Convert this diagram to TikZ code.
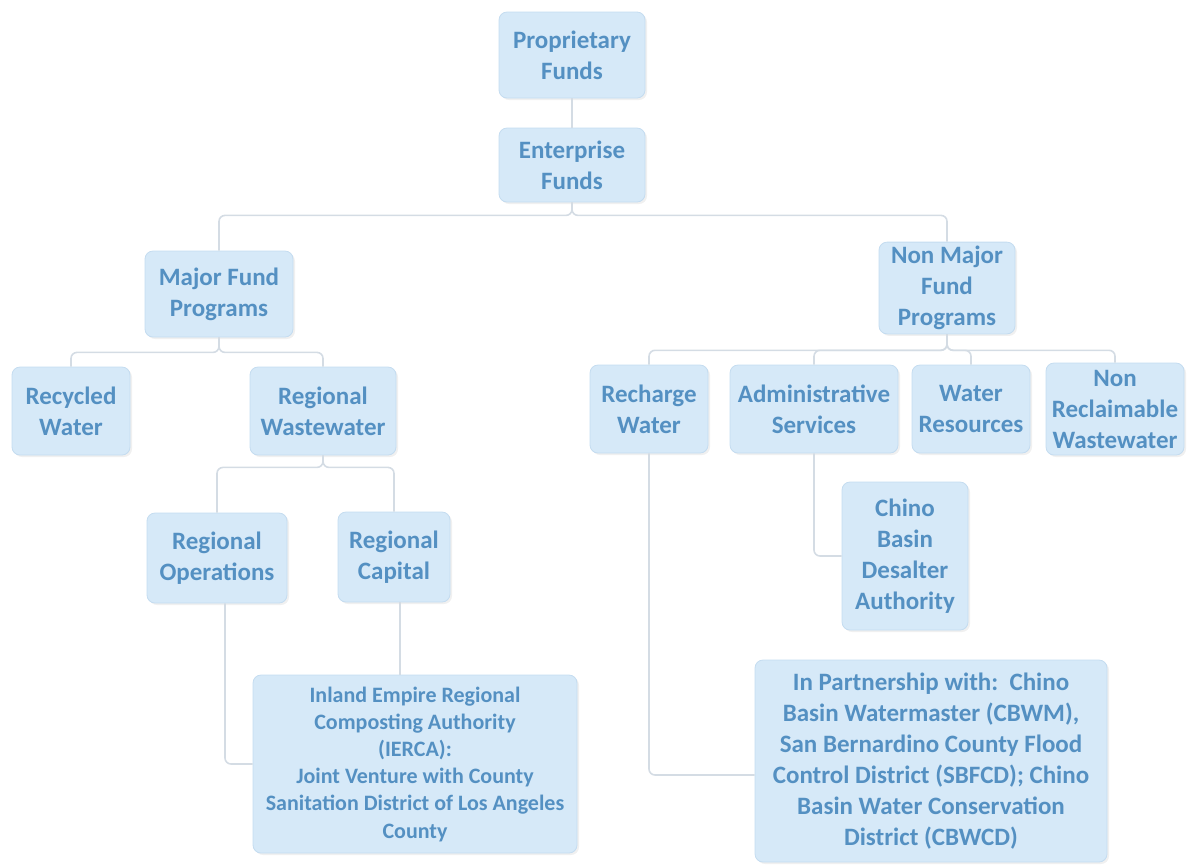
\documentclass[tikz,border=0pt]{standalone}
\usepackage{fontspec}
\setmainfont{Carlito}
\usepackage{tikz}
\usetikzlibrary{shadows}

\definecolor{boxfill}{RGB}{214,233,248}
\definecolor{boxline}{RGB}{196,220,240}
\definecolor{boxtext}{RGB}{84,144,194}
\definecolor{wire}{RGB}{212,220,228}

\begin{document}
\begin{tikzpicture}[
                x=0.5pt, y=-0.5pt,             % 1 unit = 1 px of the reference
                every node/.style={
                    rectangle,
                    rounded corners=4pt,
                    draw=boxline,
                    fill=boxfill,
                    text=boxtext,
                    align=center,
                    inner sep=2pt,
                    font=\bfseries\fontsize{12.5}{15.5}\selectfont,
                    drop shadow={opacity=0.12, shadow xshift=1pt, shadow yshift=-1pt}
                },
                small/.style={font=\bfseries\fontsize{11}{13.6}\selectfont},
                wire/.style={draw=wire, line width=0.8pt, rounded corners=3pt}
            ]
                \useasboundingbox (0,0) rectangle (1188,864);

                % nodes
                \node[minimum width=73pt, minimum height=43pt] (prop) at (572,55) {Proprietary\\Funds};
                \node[minimum width=73pt, minimum height=37pt] (ent) at (572,165) {Enterprise\\Funds};
                \node[minimum width=74pt, minimum height=43pt] (major) at (219,294) {Major Fund\\Programs};
                \node[minimum width=68pt, minimum height=45pt] (nonmajor) at (947,288) {Non Major\\Fund\\Programs};

                \node[minimum width=59pt, minimum height=44pt] (recycled) at (71,411) {Recycled\\Water};
                \node[minimum width=73pt, minimum height=44pt] (regww) at (323,411) {Regional\\Wastewater};
                \node[minimum width=70pt, minimum height=45pt] (regops) at (217,558) {Regional\\Operations};
                \node[minimum width=56pt, minimum height=45pt] (regcap) at (394,557) {Regional\\Capital};

                \node[minimum width=59pt, minimum height=44pt] (recharge) at (649,409) {Recharge\\Water};
                \node[minimum width=84pt, minimum height=44pt] (admin) at (814,409) {Administrative\\Services};
                \node[minimum width=59pt, minimum height=44pt] (waterres) at (971,409) {Water\\Resources};
                \node[minimum width=69pt, minimum height=46pt] (nonrecl) at (1115,409) {Non\\Reclaimable\\Wastewater};
                \node[minimum width=63pt, minimum height=74pt] (chino) at (905,556) {Chino\\Basin\\Desalter\\Authority};

                \node[small, minimum width=162pt, minimum height=89pt] (ierca) at (415,764)
                    {Inland Empire Regional\\Composting Authority\\(IERCA):\\Joint Venture with County\\Sanitation District of Los Angeles\\County};
                \node[minimum width=176pt, minimum height=101pt] (partner) at (931,761)
                    {In Partnership with:\ \ Chino\\Basin Watermaster (CBWM),\\San Bernardino County Flood\\Control District (SBFCD); Chino\\Basin Water Conservation\\District (CBWCD)};

                % connectors
                \draw[wire] (prop) -- (ent);
                \draw[wire] (ent.south) -- ++(0,13) -| (major.north);
                \draw[wire] (ent.south) -- ++(0,13) -| (nonmajor.north);
                \draw[wire] (major.south) -- ++(0,15) -| (recycled.north);
                \draw[wire] (major.south) -- ++(0,15) -| (regww.north);
                \draw[wire] (regww.south) -- ++(0,12) -| (regops.north);
                \draw[wire] (regww.south) -- ++(0,12) -| (regcap.north);
                \draw[wire] (nonmajor.south) -- ++(0,16) -| (recharge.north);
                \draw[wire] (nonmajor.south) -- ++(0,16) -| (admin.north);
                \draw[wire] (nonmajor.south) -- ++(0,16) -| (waterres.north);
                \draw[wire] (nonmajor.south) -- ++(0,16) -| (nonrecl.north);
                \draw[wire] (admin.south) |- (chino.west);
                \draw[wire] (recharge.south) |- ([yshift=-7pt]partner.west);
                \draw[wire] ([xshift=4pt]regops.south) |- (ierca.west);
                \draw[wire] ([xshift=3pt]regcap.south) -- ([xshift=3pt]regcap.south |- ierca.north);
            \end{tikzpicture}
\end{document}
